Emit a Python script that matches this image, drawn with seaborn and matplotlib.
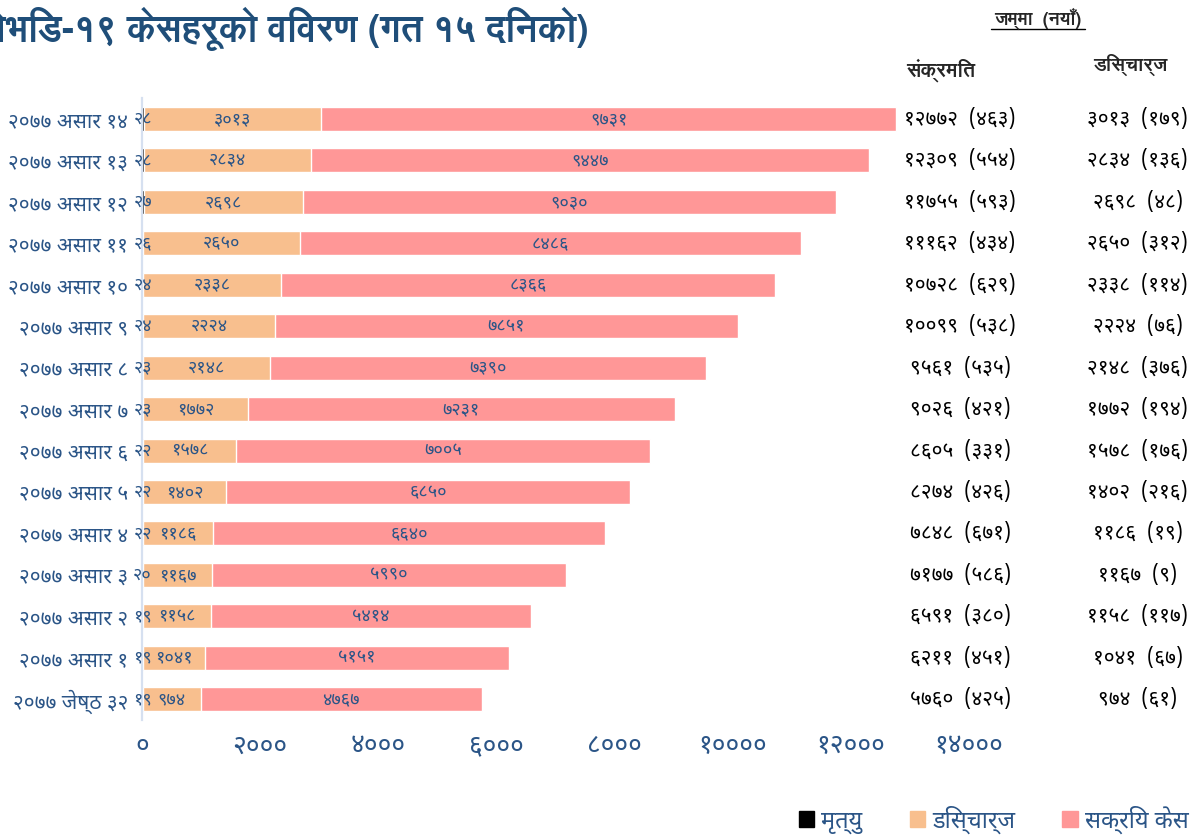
import numpy as np
import pandas as pd
import seaborn as sns
import matplotlib
matplotlib.use('Agg')
import matplotlib.pyplot as plt
from matplotlib import font_manager

dates = ['२०७७ असार १४', '२०७७ असार १३', '२०७७ असार १२', '२०७७ असार ११',
         '२०७७ असार १०', '२०७७ असार ९', '२०७७ असार ८', '२०७७ असार ७',
         '२०७७ असार ६', '२०७७ असार ५', '२०७७ असार ४', '२०७७ असार ३',
         '२०७७ असार २', '२०७७ असार १', '२०७७ जेष्ठ ३२']
deaths = [28, 28, 27, 26, 24, 24, 23, 23, 22, 22, 22, 20, 19, 19, 19]
discharged = [3013, 2834, 2698, 2650, 2338, 2224, 2148, 1772, 1578, 1402, 1186, 1167, 1158, 1041, 974]
active = [9731, 9447, 9030, 8486, 8366, 7851, 7390, 7231, 7005, 6850, 6640, 5990, 5414, 5151, 4767]
new_infected = [463, 554, 593, 434, 629, 538, 535, 421, 331, 426, 671, 586, 380, 451, 425]
new_discharged = [179, 136, 48, 312, 114, 76, 376, 194, 176, 216, 19, 9, 117, 67, 61]
xticks = [0, 2000, 4000, 6000, 8000, 10000, 12000, 14000]
series_names = ['मृत्यु', 'डिस्चार्ज', 'सक्रिय केस']

title = 'कोभिड-१९ केसहरूको विवरण (गत १५ दिनको)'
col_head = 'जम्मा  (नयाँ)'
head_infected = 'संक्रमित'
head_discharged = 'डिस्चार्ज'

DEV = str.maketrans('0123456789', '०१२३४५६७८९')


def np_num(v):
    return str(v).translate(DEV)


# devanagari fonts: one for normal text, one that has a real bold face
have = {f.name for f in font_manager.fontManager.ttflist}
deva = 'Noto Sans Devanagari' if 'Noto Sans Devanagari' in have else 'FreeSans'
bold_fam = [deva, 'DejaVu Sans']
if 'FreeSans' in have:
    bold_fam = ['FreeSans', deva, 'DejaVu Sans']

sns.set_theme(style='white')
plt.rcParams['font.family'] = [deva, 'FreeSans', 'DejaVu Sans']

navy = '#2b5587'
dark = '#1f4e79'
c_death = '#000000'
c_dis = '#f8bf8e'
c_act = '#ff9797'

df = pd.DataFrame({'date': dates, 'death': deaths, 'dis': discharged, 'act': active})
df['total'] = df['death'] + df['dis'] + df['act']
df['death_dis'] = df['death'] + df['dis']

fig = plt.figure(figsize=(12.03, 8.4), dpi=100)
ax = fig.add_axes([0.118, 0.143, 0.687, 0.74])

# stacked bars drawn as layered cumulative bars
sns.barplot(data=df, x='total', y='date', color=c_act, width=0.58, ax=ax, saturation=1)
sns.barplot(data=df, x='death_dis', y='date', color=c_dis, width=0.58, ax=ax, saturation=1)
sns.barplot(data=df, x='death', y='date', color=c_death, width=0.58, ax=ax, saturation=1)

ax.set_xlim(0, 14000)
ax.set_xticks(xticks)
ax.set_xticklabels([np_num(t) for t in xticks], color=navy, fontsize=19)
ax.set_yticks(range(len(dates)))
ax.set_yticklabels(dates, color=navy, fontsize=15)
ax.tick_params(axis='y', length=0, pad=10)
ax.tick_params(axis='x', length=0, pad=9)
ax.set_xlabel('')
ax.set_ylabel('')
for s in ['top', 'right', 'bottom']:
    ax.spines[s].set_visible(False)
ax.spines['left'].set_color('#d6e0f0')
ax.spines['left'].set_linewidth(1.6)

# segment labels
for i, row in df.iterrows():
    ax.text(row['death'] / 2, i, np_num(row['death']), ha='center', va='center',
            color=navy, fontsize=13, clip_on=False)
    ax.text(row['death'] + row['dis'] / 2, i, np_num(row['dis']), ha='center', va='center',
            color=navy, fontsize=13)
    ax.text(row['death_dis'] + row['act'] / 2, i, np_num(row['act']), ha='center', va='center',
            color=navy, fontsize=13)

# right side table
tr = ax.get_yaxis_transform()
for i in range(len(dates)):
    tot = df['total'][i]
    ax.text(0.99, i, np_num(tot) + '  (' + np_num(new_infected[i]) + ')', transform=tr,
            ha='center', va='center', fontsize=15, color='black', clip_on=False)
    ax.text(1.205, i, np_num(discharged[i]) + '  (' + np_num(new_discharged[i]) + ')', transform=tr,
            ha='center', va='center', fontsize=15, color='black', clip_on=False)

fig.text(0.863, 0.978, col_head, ha='center', va='center', fontsize=13, fontweight='bold',
         family=bold_fam)
fig.lines.append(plt.Line2D([0.824, 0.902], [0.966, 0.966], transform=fig.transFigure,
                            color='black', linewidth=1))
fig.text(0.782, 0.916, head_infected, ha='center', va='center', fontsize=14.5, fontweight='bold',
         family=bold_fam)
fig.text(0.94, 0.923, head_discharged, ha='center', va='center', fontsize=14, fontweight='bold',
         family=bold_fam)

fig.text(-0.027, 0.966, title, ha='left', va='center', fontsize=26.5, color=dark, fontweight='bold',
         family=bold_fam)

# legend
handles = [plt.Rectangle((0, 0), 1, 1, color=c) for c in [c_death, c_dis, c_act]]
leg = fig.legend(handles, series_names, loc='center', bbox_to_anchor=(0.826, 0.024), ncol=3,
                 frameon=False, fontsize=17, handlelength=0.65, handleheight=0.65,
                 handletextpad=0.3, columnspacing=2.0)
for t in leg.get_texts():
    t.set_color(navy)

fig.savefig('out.png', dpi=100)
